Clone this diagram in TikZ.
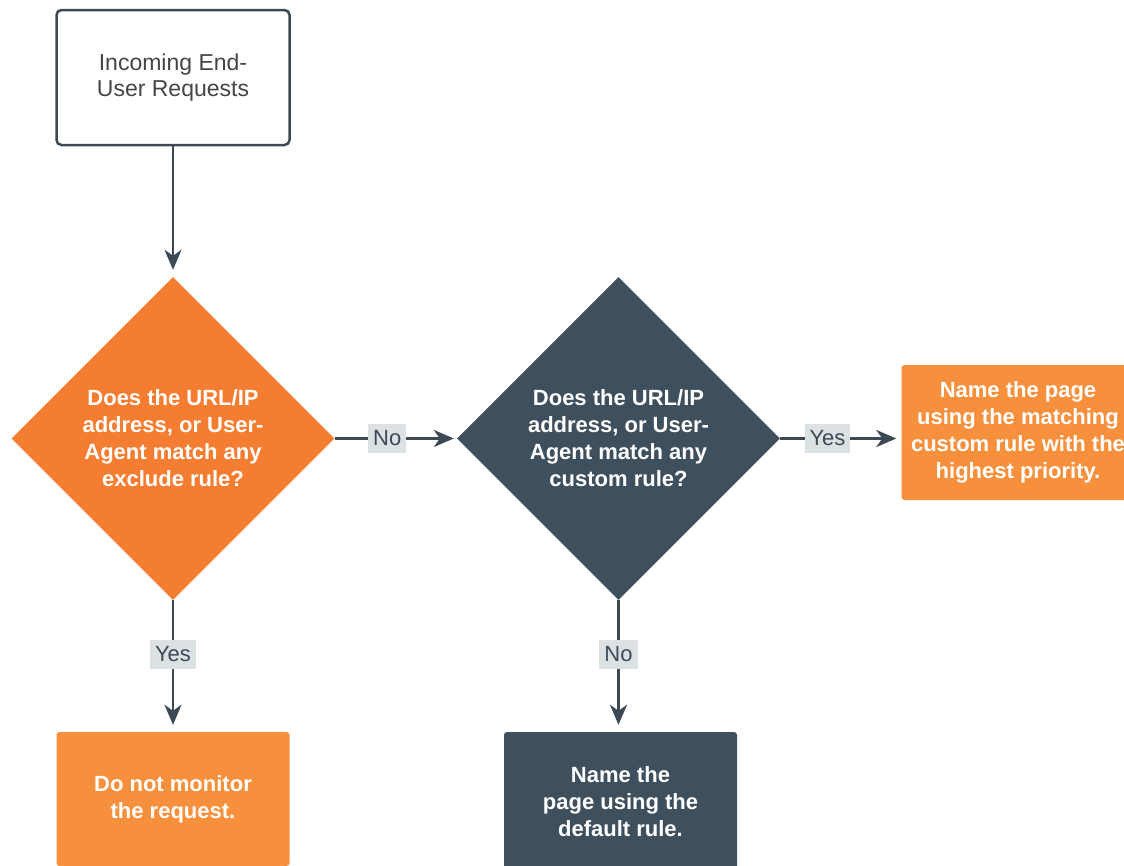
\documentclass[tikz,border=0pt]{standalone}
\usepackage{fontspec}
\setmainfont{Liberation Sans}
\usetikzlibrary{shapes.geometric,arrows.meta}
\definecolor{orangeD}{HTML}{F47D31}
\definecolor{orangeB}{HTML}{F6903C}
\definecolor{slate}{HTML}{3E4F5D}
\definecolor{arrowc}{HTML}{3D4A56}
\definecolor{lblgray}{HTML}{DCE2E4}
\definecolor{txtgray}{HTML}{454545}
\tikzset{
  startbox/.style={draw=arrowc, line width=2.5pt, rounded corners=5pt, fill=white,
    minimum width=233pt, minimum height=135pt, align=center, text=txtgray,
    font=\fontsize{23}{26}\selectfont},
  decision/.style={diamond, aspect=1, inner sep=0pt, minimum width=323pt, minimum height=323pt,
    align=center, text=white, font=\bfseries\fontsize{22}{27}\selectfont},
  resultbox/.style={rounded corners=3pt, minimum width=233pt, align=center, text=white,
    font=\bfseries\fontsize{22}{27}\selectfont},
  lbl/.style={fill=lblgray, text=arrowc, inner xsep=5pt, inner ysep=7pt,
    font=\fontsize{22}{24}\selectfont},
  arr/.style={draw=arrowc, line width=2.8pt, -{Stealth[length=20pt,width=17pt,inset=6pt]}},
}
\begin{document}
\begin{tikzpicture}[x=1pt,y=-1pt]
\useasboundingbox (0,0) rectangle (1124,865);
\fill[white] (0,0) rectangle (1124,865);
\node[startbox] (start) at (173,77.5) {Incoming End-\\User Requests};
\node[decision, fill=orangeD] (d1) at (173,438.5) {Does the URL/IP\\address, or User-\\Agent match any\\exclude rule?};
\node[decision, fill=slate] (d2) at (618.5,438.5) {Does the URL/IP\\address, or User-\\Agent match any\\custom rule?};
\node[resultbox, fill=orangeB, minimum height=135pt] (named) at (1018,432.5) {Name the page\\using the matching\\custom rule with the\\highest priority.};
\node[resultbox, fill=orangeB, minimum height=134pt] (skip) at (173,799) {Do not monitor\\the request.};
\node[resultbox, fill=slate, minimum height=140pt] (default) at (620.5,802) {Name the\\page using the\\default rule.};
\draw[arr, shorten >=7pt] (start) -- (d1);
\draw[arr, shorten >=3pt] (d1) -- node[lbl, pos=0.43]{No} (d2);
\draw[arr, shorten >=5pt] (d2) -- node[lbl, pos=0.39]{Yes} (d2 -| named.west);
\draw[arr, shorten >=7pt] (d1) -- node[lbl, pos=0.41]{Yes} (d1 |- skip.north);
\draw[arr, shorten >=7pt] (d2) -- node[lbl, pos=0.41]{No} (d2 |- default.north);
\end{tikzpicture}
\end{document}
